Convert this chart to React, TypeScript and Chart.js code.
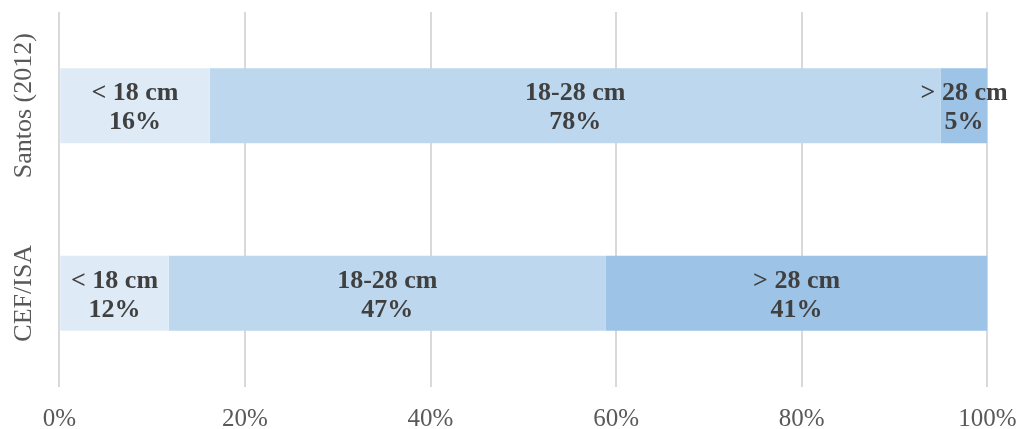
import React, { useEffect, useRef } from "react";
import { Chart, registerables } from "chart.js";

Chart.register(...registerables);

const categories = ["Santos (2012)", "CEF/ISA"];
const seriesNames = ["< 18 cm", "18-28 cm", "> 28 cm"];
const smallValues = [16.2, 11.8];
const midValues = [78.8, 47.1];
const largeValues = [5.0, 41.1];
const smallLabels = ["16%", "12%"];
const midLabels = ["78%", "47%"];
const largeLabels = ["5%", "41%"];
const xTicks = [0, 20, 40, 60, 80, 100];

const colors = ["#DEEBF7", "#BDD7EE", "#9DC3E6"];

const labelPlugin = {
  id: "segLabels",
  afterDatasetsDraw(chart: any) {
    const ctx = chart.ctx;
    const labelSets = [smallLabels, midLabels, largeLabels];
    ctx.save();
    ctx.font = "bold 26px 'Liberation Serif', 'Times New Roman', serif";
    ctx.fillStyle = "#404040";
    ctx.textAlign = "center";
    ctx.textBaseline = "middle";
    chart.data.datasets.forEach((ds: any, di: number) => {
      const meta = chart.getDatasetMeta(di);
      meta.data.forEach((bar: any, i: number) => {
        const cx = (bar.x + bar.base) / 2;
        const cy = bar.y;
        ctx.fillText(seriesNames[di], cx, cy - 12);
        ctx.fillText(labelSets[di][i], cx, cy + 17);
      });
    });
    ctx.font = "26px 'Liberation Serif', 'Times New Roman', serif";
    ctx.fillStyle = "#595959";
    const yScale = chart.scales.y;
    categories.forEach((c, i) => {
      const y = yScale.getPixelForValue(i);
      ctx.save();
      ctx.translate(24, y);
      ctx.rotate(-Math.PI / 2);
      ctx.fillText(c, 0, 0);
      ctx.restore();
    });
    ctx.restore();
  },
};

export default function App() {
  const ref = useRef<HTMLCanvasElement>(null);
  useEffect(() => {
    if (!ref.current) return;
    const chart = new Chart(ref.current, {
      type: "bar",
      data: {
        labels: categories,
        datasets: [
          { label: seriesNames[0], data: smallValues, backgroundColor: colors[0] },
          { label: seriesNames[1], data: midValues, backgroundColor: colors[1] },
          { label: seriesNames[2], data: largeValues, backgroundColor: colors[2] },
        ],
      },
      options: {
        indexAxis: "y",
        responsive: false,
        animation: false,
        maintainAspectRatio: false,
        layout: { padding: { left: 51.3, right: 31.7, top: 12, bottom: 0 } },
        datasets: { bar: { categoryPercentage: 0.4, barPercentage: 1.0 } },
        plugins: { legend: { display: false }, tooltip: { enabled: false } },
        scales: {
          x: {
            stacked: true,
            min: 0,
            max: 100,
            afterBuildTicks: (scale: any) => {
              scale.ticks = xTicks.map((v) => ({ value: v }));
            },
            afterFit: (scale: any) => {
              scale.height = 42;
              scale.paddingLeft = 0;
              scale.paddingRight = 0;
            },
            ticks: {
              padding: 17,
              color: "#595959",
              font: { family: "'Liberation Serif', 'Times New Roman', serif", size: 25 },
              callback: (v: any) => v + "%",
              maxRotation: 0,
            },
            grid: { color: "#D9D9D9", lineWidth: 2, drawTicks: false },
            border: { display: false },
          },
          y: {
            stacked: true,
            ticks: { display: false },
            grid: { display: false },
            border: { display: false },
          },
        },
      },
      plugins: [labelPlugin],
    } as any);
    return () => chart.destroy();
  }, []);
  return (
    <div style={{ position: "absolute", left: 0, top: 0, width: 1019, height: 429 }}>
      <canvas ref={ref} width={1019} height={429} style={{ display: "block" }} />
    </div>
  );
}
